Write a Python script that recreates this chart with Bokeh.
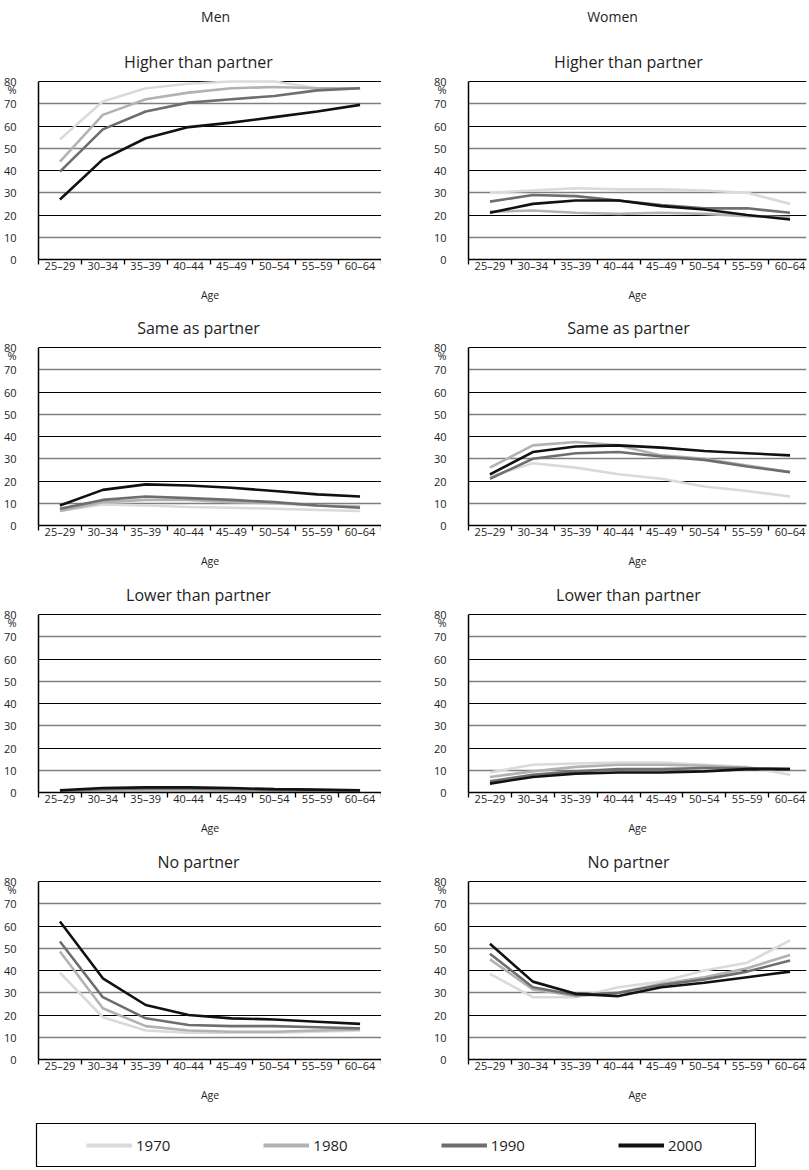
from bokeh.plotting import figure
from bokeh.models import FixedTicker, Grid, Label, Legend, LegendItem, Range1d
from bokeh.layouts import column, row
from bokeh.embed import file_html
from bokeh.resources import INLINE

age_groups = ["25–29", "30–34", "35–39", "40–44", "45–49", "50–54", "55–59", "60–64"]
years = ["1970", "1980", "1990", "2000"]
year_colors = ["#dadada", "#b2b2b2", "#6e6e6e", "#111111"]
y_tick_values = [0, 10, 20, 30, 40, 50, 60, 70, 80]

# Men
men_higher = {
    "1970": [54, 71, 77, 79, 80, 80, 77, 77],
    "1980": [44, 65, 72, 75, 77, 77.5, 77, 77],
    "1990": [39.5, 58.5, 66.5, 70.5, 72, 73.5, 76, 77],
    "2000": [27, 45, 54.5, 59.5, 61.5, 64, 66.5, 69.5],
}
men_same = {
    "1970": [6.5, 9.5, 9, 8.3, 8, 7.5, 7, 6.5],
    "1980": [6.5, 10.5, 11.5, 11.5, 10.5, 10, 9, 8.5],
    "1990": [7.5, 11.5, 13, 12.3, 11.5, 10.5, 9, 8],
    "2000": [9, 16, 18.5, 18, 17, 15.5, 14, 13],
}
men_lower = {
    "1970": [0.3, 0.5, 0.6, 0.6, 0.5, 0.5, 0.4, 0.3],
    "1980": [0.5, 1.0, 1.2, 1.2, 1.0, 0.8, 0.7, 0.5],
    "1990": [0.8, 1.5, 1.8, 1.8, 1.5, 1.2, 1.0, 0.8],
    "2000": [1.0, 2.0, 2.3, 2.3, 2.0, 1.5, 1.3, 1.0],
}
men_none = {
    "1970": [39, 19, 13, 12, 12, 12, 12.5, 13],
    "1980": [48.5, 23, 15, 13, 12.5, 12.5, 13, 13.5],
    "1990": [53, 28, 18.5, 15.5, 15, 15, 14.5, 14],
    "2000": [62, 36.5, 24.5, 20, 18.5, 18, 17, 16],
}
# Women
women_higher = {
    "1970": [30, 31, 32, 31.5, 31.5, 31, 30, 25],
    "1980": [21.5, 22, 21, 20.5, 21, 20.5, 19.5, 19],
    "1990": [26, 29, 28.5, 26.5, 24.5, 23, 23, 21],
    "2000": [21, 25, 26.5, 26.5, 24, 22.5, 20, 18],
}
women_same = {
    "1970": [22, 28, 26, 23, 21, 17.5, 15.5, 13],
    "1980": [26, 36, 37.5, 36, 31.5, 30, 27, 24],
    "1990": [21, 30, 32.5, 33, 31, 29.5, 26.5, 24],
    "2000": [23, 33, 35.5, 36, 35, 33.5, 32.5, 31.5],
}
women_lower = {
    "1970": [9, 12.5, 13, 13.5, 13.5, 12.5, 11.5, 8],
    "1980": [7, 9.5, 11.5, 12.5, 12.5, 12, 11, 10.5],
    "1990": [5, 8, 9.5, 10.5, 10.5, 11, 11, 10.5],
    "2000": [4, 7, 8.5, 9, 9, 9.5, 10.5, 10.5],
}
women_none = {
    "1970": [38.5, 28, 28, 32.5, 35, 40, 43.5, 53.5],
    "1980": [45, 31.5, 28.5, 30, 34, 37, 41, 47],
    "1990": [47.5, 32.5, 29, 30, 33.5, 36, 39.5, 44.5],
    "2000": [52, 35, 29.5, 28.5, 32.5, 34.5, 37, 39.5],
}

panel_titles = ["Higher than partner", "Same as partner", "Lower than partner", "No partner"]
men_panels = [men_higher, men_same, men_lower, men_none]
women_panels = [women_higher, women_same, women_lower, women_none]
column_headers = ["Men", "Women"]

FONT = "Open Sans"
TXT = "#1e1e1e"
PLOT_H = 178          # pixel height of the 0-80 band
BASE_W = 343          # pixel width of the 8 age groups
PX_PER_UNIT = PLOT_H / 80.0
TOP_SPACE = [81, 36, 37, 37]   # pixels above the 80 line in each row


def make_panel(data, title, is_left, row_idx, header):
    frame_w = BASE_W if is_left else 338
    x_end = 0.5 + 8 * frame_w / BASE_W
    top_px = TOP_SPACE[row_idx]
    frame_h = PLOT_H + top_px
    y_end = 80 + top_px / PX_PER_UNIT
    p = figure(frame_width=frame_w, frame_height=frame_h,
               x_range=Range1d(0.5, x_end), y_range=Range1d(0, y_end),
               output_backend="svg", toolbar_location=None, title=None,
               min_border_left=29 if is_left else 87,
               min_border_right=0 if is_left else 4,
               min_border_top=0, min_border_bottom=52)
    p.outline_line_color = None
    p.background_fill_color = "white"
    p.xgrid.visible = False
    p.ygrid.ticker = FixedTicker(ticks=[20, 40, 60, 80])
    p.ygrid.grid_line_color = "#000000"
    p.ygrid.grid_line_width = 1.2
    g2 = Grid(dimension=1, ticker=FixedTicker(ticks=[10, 30, 50, 70]),
              grid_line_color="#7f7f7f", grid_line_width=1.6)
    p.add_layout(g2)

    # y axis
    yax = p.yaxis[0]
    yax.bounds = (0, 80)
    yax.ticker = FixedTicker(ticks=y_tick_values + [76.4])
    yax.major_label_overrides = {76.4: "%"}
    yax.major_tick_line_color = None
    yax.minor_tick_line_color = None
    yax.axis_line_color = "black"
    yax.axis_line_width = 1.5
    yax.major_label_standoff = 16
    yax.major_label_text_font = FONT
    yax.major_label_text_font_size = "11px"
    yax.major_label_text_color = TXT

    # x axis
    xax = p.xaxis[0]
    xax.ticker = FixedTicker(ticks=list(range(1, 9)),
                             minor_ticks=[i + 0.5 for i in range(0, 9)])
    xax.major_label_overrides = {i + 1: a for i, a in enumerate(age_groups)}
    xax.major_tick_line_color = None
    xax.minor_tick_in = 0
    xax.minor_tick_out = 5
    xax.minor_tick_line_color = "black"
    xax.minor_tick_line_width = 1.3
    xax.axis_line_color = "black"
    xax.axis_line_width = 1.5
    xax.major_label_standoff = -8
    xax.major_label_text_font = FONT
    xax.major_label_text_font_size = "11px"
    xax.major_label_text_color = TXT
    xax.axis_label = "Age"
    xax.axis_label_text_font = FONT
    xax.axis_label_text_font_size = "10.5px"
    xax.axis_label_text_font_style = "normal"
    xax.axis_label_text_color = TXT
    xax.axis_label_standoff = 12

    xs = list(range(1, 9))
    for yr, col in zip(years, year_colors):
        p.line(xs, data[yr], line_color=col, line_width=2.6)

    p.add_layout(Label(x=4.23, y=80 + 20 / PX_PER_UNIT,
                       text=title, text_align="center", text_baseline="middle",
                       text_font=FONT, text_font_size="16px", text_color=TXT))
    if header is not None:
        hx = 4.63 if is_left else 3.86
        p.add_layout(Label(x=hx, y=80 + 65 / PX_PER_UNIT,
                           text=header, text_align="center", text_baseline="middle",
                           text_font=FONT, text_font_size="14px", text_color=TXT))
    return p


rows = []
for i in range(4):
    left = make_panel(men_panels[i], panel_titles[i], True, i,
                      column_headers[0] if i == 0 else None)
    right = make_panel(women_panels[i], panel_titles[i], False, i,
                       column_headers[1] if i == 0 else None)
    rows.append(row(left, right))

# legend strip
lp = figure(frame_width=720, frame_height=43, min_border_left=36, min_border_right=0,
            min_border_top=12, min_border_bottom=1,
            x_axis_location=None, y_axis_location=None,
            toolbar_location=None, output_backend="svg", title=None,
            x_range=Range1d(0, 1), y_range=Range1d(0, 1))
lp.grid.visible = False
lp.outline_line_color = "black"
lp.outline_line_width = 1.2
items = []
for yr, col in zip(years, year_colors):
    r = lp.line([0, 1], [-5, -5], line_color=col, line_width=4)
    items.append(LegendItem(label=yr, renderers=[r]))
legend = Legend(items=items, orientation="horizontal", location=(50, 11),
                spacing=93, padding=0, margin=0, glyph_width=46, glyph_height=20,
                label_height=20, label_standoff=4,
                label_text_font=FONT, label_text_font_size="15px",
                label_text_color=TXT,
                border_line_color=None, background_fill_alpha=0)
lp.add_layout(legend)

layout = column(*rows, lp)
open("out.html", "w").write(file_html(layout, INLINE))
